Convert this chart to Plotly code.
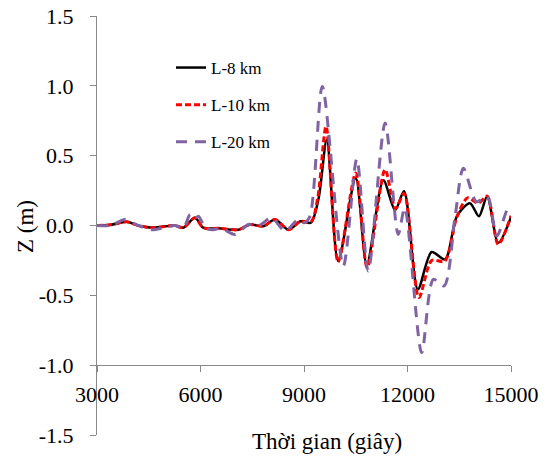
import plotly.graph_objects as go

# --- data ---
t_l8 = [3000, 3400, 3860, 4190, 4630, 5260, 5500, 5840, 6080, 6520, 7100, 7430, 7820,
        8160, 8550, 8900, 9200, 9420, 9660, 9990, 10500, 10820, 11300, 11640, 11900,
        12300, 12700, 13090, 13430, 13810, 14070, 14310, 14630, 15000]
z_l8 = [0.0, 0.005, 0.026, 0.0, -0.016, 0.0, -0.016, 0.055, -0.016, -0.02, -0.03, 0.007, -0.005,
        0.043, -0.03, 0.03, 0.02, 0.19, 0.614, -0.255, 0.34, -0.28, 0.324, 0.11, 0.245,
        -0.457, -0.19, -0.243, 0.066, 0.16, 0.066, 0.21, -0.124, 0.06]

t_l10 = [3000, 3400, 3860, 4190, 4630, 5260, 5500, 5840, 6080, 6520, 7100, 7430, 7820,
         8160, 8550, 8900, 9200, 9400, 9640, 9990, 10500, 10830, 11350, 11650, 11900,
         12330, 12700, 13080, 13430, 13740, 14050, 14310, 14630, 15000]
z_l10 = [0.0, 0.005, 0.026, 0.0, -0.016, 0.0, -0.016, 0.055, -0.016, -0.02, -0.03, 0.007, -0.005,
         0.043, -0.03, 0.03, 0.025, 0.2, 0.71, -0.26, 0.376, -0.30, 0.40, 0.12, 0.23,
         -0.516, -0.25, -0.255, 0.06, 0.198, 0.16, 0.21, -0.136, 0.07]

t_l20 = [3000, 3400, 3810, 4190, 4630, 5260, 5500, 5700, 5840, 5940, 6150, 6370, 6600, 7000,
         7390, 7700, 8060, 8450, 8835, 9000, 9170, 9530, 10140, 10530, 10860, 11350, 11730,
         11920, 12410, 12750, 13060, 13380, 13620, 14000, 14310, 14590, 14920, 15000]
z_l20 = [0.0, 0.0, 0.043, 0.0, -0.03, 0.0, -0.02, 0.08, 0.05, 0.067, -0.02, -0.03, -0.02, -0.064,
         0.007, 0.0, 0.055, -0.04, 0.043, 0.02, 0.066, 0.995, -0.29, 0.476, -0.326, 0.733, -0.064,
         0.126, -0.91, -0.386, -0.433, 0.066, 0.41, 0.17, 0.21, -0.076, 0.126, 0.12]

series_names = ["L-8 km", "L-10 km", "L-20 km"]
y_tickvals = [-1.5, -1.0, -0.5, 0.0, 0.5, 1.0, 1.5]
y_ticktext = ["-1.5", "-1.0", "-0.5", "0.0", "0.5", "1.0", "1.5"]
x_tickvals = [3000, 6000, 9000, 12000, 15000]
x_ticktext = ["3000", "6000", "9000", "12000", "15000"]

FONT = "Liberation Serif, Times New Roman, serif"
AXC = "#898989"

fig = go.Figure()
fig.add_trace(go.Scatter(x=t_l8, y=z_l8, mode="lines", name=series_names[0], legendgroup="a",
                         line=dict(color="#000000", width=2.5, shape="spline", smoothing=0.8)))
fig.add_trace(go.Scatter(x=t_l10, y=z_l10, mode="lines", name=series_names[1], legendgroup="b",
                         line=dict(color="#FF0000", width=3, dash="6px,3px", shape="spline", smoothing=0.8)))
fig.add_trace(go.Scatter(x=t_l20, y=z_l20, mode="lines", name=series_names[2], legendgroup="c",
                         line=dict(color="#8064A2", width=3, dash="11px,8px", shape="spline", smoothing=0.8)))

L, R, T, B = 97, 41, 16, 22
pw = 552 - L - R
ph = 457 - T - B

def px(xp):
    return (xp - L) / pw

def py(yp):
    return (457 - B - yp) / ph

fig.update_layout(
    width=552, height=457,
    margin=dict(l=L, r=R, t=T, b=B, autoexpand=False),
    paper_bgcolor="white", plot_bgcolor="white",
    font=dict(family=FONT, size=21, color="black"),
    showlegend=True,
    legend=dict(x=px(171), y=py(50), xanchor="left", yanchor="top",
                font=dict(family=FONT, size=17, color="black"),
                bgcolor="rgba(0,0,0,0)", traceorder="grouped", tracegroupgap=12,
                itemwidth=30),
    xaxis=dict(range=[3000, 15000], tickvals=x_tickvals, ticktext=x_ticktext,
               showgrid=False, zeroline=False, showline=True, linecolor=AXC, linewidth=1,
               ticks="outside", ticklen=6, tickcolor=AXC, automargin=False,
               anchor="free", position=1/6, ticklabelstandoff=3,
               tickfont=dict(family=FONT, size=22)),
    yaxis=dict(range=[-1.5, 1.5], tickvals=y_tickvals, ticktext=y_ticktext,
               showgrid=False, zeroline=False, showline=True, linecolor=AXC, linewidth=1,
               ticks="outside", ticklen=6, tickcolor=AXC, ticklabelstandoff=12, automargin=False,
               tickfont=dict(family=FONT, size=22)),
    annotations=[
        dict(text="Thời gian (giây)", x=px(327), y=py(441), xref="paper", yref="paper",
             xanchor="center", yanchor="middle",
             showarrow=False, font=dict(family=FONT, size=23)),
        dict(text="Z (m)", x=px(25), y=py(227), xref="paper", yref="paper", textangle=-90,
             xanchor="center", yanchor="middle",
             showarrow=False, font=dict(family=FONT, size=23)),
    ],
)

fig.write_html("out.html")
